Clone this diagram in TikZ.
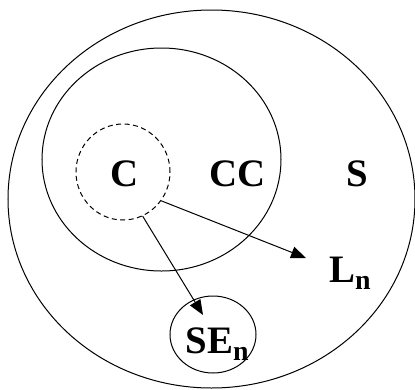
\documentclass[tikz,border=0pt]{standalone}
\usepackage{fontspec}
\setmainfont{Liberation Serif}
\usetikzlibrary{shapes.geometric,arrows.meta}
\newcommand{\subn}{\raisebox{-0.2em}{\fontsize{28}{28}\selectfont n}}
\begin{document}
\begin{tikzpicture}[x=1bp,y=-1bp,
  ring/.style={draw,ellipse,line width=1bp,inner sep=0pt},
  lbl/.style={anchor=base,inner sep=0pt,font=\fontsize{39}{42}\selectfont\bfseries},
  arr/.style={line width=1bp,-{Triangle[length=15bp,width=12bp]}}]
\useasboundingbox (0,0) rectangle (415,390);
\node[ring,minimum width=407bp,minimum height=378bp] (S) at (211.5,199) {};
\node[ring,minimum width=239bp,minimum height=223bp] (CC) at (161.5,159.5) {};
\node[ring,dashed,dash pattern=on 5bp off 3.5bp,minimum width=94bp,minimum height=96bp] (C) at (123,172) {};
\node[ring,minimum width=86bp,minimum height=77bp] (SE) at (213,334.5) {};
\node[lbl] (tC) at (124.5,186) {C};
\node[lbl] (tCC) at (237.5,186) {CC};
\node[lbl] (tS) at (357,186) {S};
\node[lbl] (tL) at (350,282) {L\subn};
\node[lbl] (tSE) at (217,353) {SE\subn};
\coordinate (e1) at (306,258);
\coordinate (e2) at (203,315);
\draw[arr] (C.-37) -- (e1);
\draw[arr] (C.-66) -- (e2);
\end{tikzpicture}
\end{document}
